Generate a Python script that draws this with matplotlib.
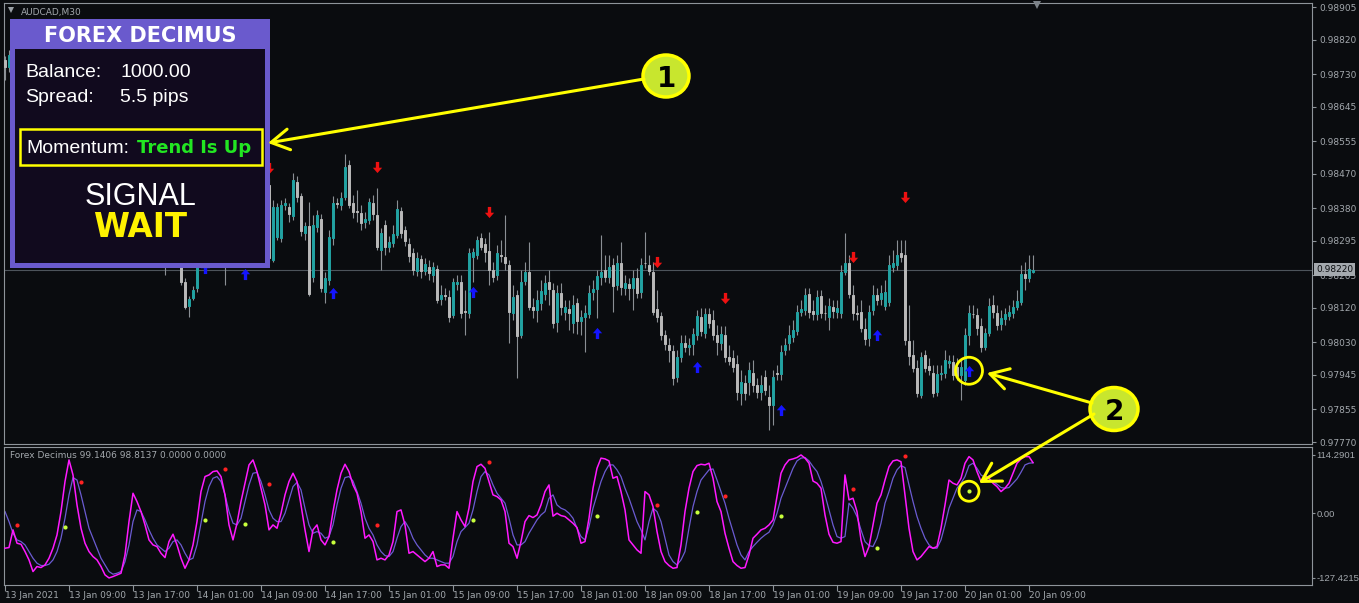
import numpy as np
import matplotlib
matplotlib.use("Agg")
import matplotlib.pyplot as plt
import matplotlib.transforms as mtransforms
from matplotlib.path import Path
from matplotlib.markers import MarkerStyle
from matplotlib.patches import Rectangle, Ellipse, Circle

# ---------------------------------------------------------------- data
symbol = "AUDCAD,M30"
indicator_name = "Forex Decimus"

# M30 candles, prices in points (1 point = 0.00001)
open_pts = [
    98767, 98748, 98780, 98761, 98714, 98693, 98662, 98631, 98597, 98615,
    98605, 98623, 98649, 98683, 98714, 98751, 98772, 98761, 98714, 98662,
    98623, 98584, 98545, 98526, 98493, 98453, 98414, 98401, 98412, 98407,
    98427, 98466, 98506, 98519, 98493, 98466, 98427, 98388, 98370, 98349,
    98310, 98271, 98292, 98307, 98276, 98188, 98125, 98146, 98172, 98284,
    98297, 98318, 98336, 98362, 98388, 98401, 98297, 98323, 98284, 98297,
    98271, 98302, 98336, 98388, 98414, 98433, 98440, 98245, 98305, 98302,
    98388, 98383, 98360, 98448, 98412, 98315, 98334, 98201, 98331, 98352,
    98162, 98193, 98302, 98393, 98388, 98409, 98493, 98393, 98373, 98367,
    98344, 98349, 98393, 98362, 98271, 98336, 98279, 98289, 98310, 98373,
    98323, 98287, 98263, 98216, 98248, 98216, 98227, 98206, 98221, 98143,
    98154, 98149, 98102, 98182, 98188, 98112, 98107, 98253, 98258, 98302,
    98287, 98268, 98219, 98206, 98258, 98253, 98232, 98107, 98154, 98050,
    98190, 98214, 98123, 98115, 98133, 98156, 98188, 98167, 98084, 98159,
    98110, 98117, 98081, 98133, 98086, 98097, 98104, 98162, 98169, 98201,
    98219, 98201, 98232, 98180, 98237, 98172, 98182, 98172, 98198, 98162,
    98237, 98232, 98214, 98117, 98099, 98050, 98024, 98008, 97940, 97992,
    98029, 98018, 98026, 98050, 98097, 98055, 98104, 98089, 98050, 98029,
    98050, 97992, 97990, 97974, 97898, 97925, 97927, 97951, 97919, 97901,
    97940, 97888, 97867, 97951, 97948, 98011, 98029, 98044, 98060, 98110,
    98115, 98156, 98112, 98104, 98151, 98107, 98097, 98123, 98110, 98107,
    98214, 98237, 98154, 98107, 98110, 98065, 98042, 98115, 98154, 98143,
    98125, 98136, 98227, 98232, 98263, 98258, 98034, 97998, 97964, 97893,
    97998, 97969, 97951, 97901, 97948, 97951, 97977, 97979, 97966, 97945,
    97932, 98050, 98104, 98102, 98073, 98018, 98055, 98128, 98107, 98078,
    98091, 98099, 98107, 98123, 98136, 98208, 98198, 98214,
]
high_pts = [
    98777, 98793, 98787, 98772, 98730, 98704, 98673, 98641, 98626, 98631,
    98636, 98662, 98693, 98725, 98761, 98787, 98793, 98772, 98725, 98673,
    98636, 98594, 98558, 98537, 98506, 98466, 98433, 98427, 98433, 98440,
    98479, 98519, 98532, 98532, 98506, 98479, 98438, 98401, 98386, 98362,
    98323, 98302, 98323, 98318, 98287, 98198, 98151, 98177, 98297, 98318,
    98334, 98349, 98375, 98401, 98414, 98422, 98336, 98334, 98310, 98307,
    98318, 98349, 98401, 98427, 98448, 98459, 98459, 98401, 98393, 98401,
    98407, 98393, 98472, 98464, 98420, 98344, 98396, 98362, 98375, 98365,
    98214, 98323, 98412, 98407, 98422, 98521, 98506, 98414, 98427, 98388,
    98370, 98407, 98414, 98433, 98328, 98349, 98307, 98336, 98401, 98383,
    98334, 98302, 98276, 98266, 98258, 98250, 98245, 98240, 98232, 98180,
    98172, 98167, 98198, 98206, 98206, 98167, 98276, 98276, 98307, 98315,
    98302, 98318, 98240, 98284, 98297, 98362, 98245, 98180, 98167, 98219,
    98240, 98292, 98146, 98167, 98193, 98206, 98219, 98185, 98180, 98185,
    98141, 98141, 98154, 98146, 98115, 98128, 98180, 98193, 98219, 98310,
    98258, 98258, 98250, 98258, 98292, 98206, 98198, 98219, 98224, 98250,
    98318, 98258, 98240, 98167, 98110, 98063, 98042, 98024, 98011, 98050,
    98050, 98042, 98068, 98115, 98120, 98120, 98120, 98115, 98076, 98073,
    98073, 98024, 98011, 97998, 97958, 97945, 97979, 97985, 97938, 97945,
    97958, 97919, 97958, 97972, 98024, 98042, 98076, 98089, 98128, 98141,
    98172, 98172, 98141, 98167, 98167, 98128, 98146, 98141, 98141, 98232,
    98315, 98258, 98180, 98128, 98141, 98094, 98128, 98180, 98172, 98180,
    98193, 98258, 98271, 98297, 98297, 98297, 98128, 98037, 97985, 98005,
    98011, 97990, 97972, 97972, 97972, 98011, 97998, 97998, 97990, 97985,
    98068, 98128, 98128, 98120, 98094, 98068, 98146, 98154, 98128, 98115,
    98120, 98128, 98141, 98167, 98232, 98240, 98258, 98258,
]
low_pts = [
    98714, 98735, 98730, 98704, 98678, 98652, 98620, 98584, 98589, 98594,
    98594, 98615, 98641, 98673, 98704, 98740, 98751, 98704, 98652, 98610,
    98573, 98532, 98511, 98479, 98440, 98401, 98380, 98386, 98388, 98396,
    98417, 98459, 98490, 98479, 98453, 98414, 98375, 98354, 98334, 98297,
    98206, 98250, 98271, 98258, 98180, 98117, 98097, 98141, 98162, 98271,
    98248, 98302, 98323, 98349, 98370, 98180, 98271, 98266, 98258, 98250,
    98229, 98292, 98328, 98375, 98401, 98422, 98240, 98240, 98297, 98292,
    98375, 98344, 98349, 98396, 98307, 98297, 98151, 98188, 98318, 98162,
    98133, 98180, 98284, 98380, 98375, 98401, 98380, 98354, 98344, 98323,
    98328, 98339, 98349, 98271, 98219, 98258, 98266, 98279, 98302, 98302,
    98281, 98240, 98206, 98203, 98198, 98206, 98193, 98188, 98133, 98128,
    98141, 98084, 98094, 98167, 98094, 98050, 98094, 98188, 98248, 98271,
    98240, 98180, 98188, 98193, 98240, 98219, 98029, 98089, 97938, 98042,
    98180, 98115, 98094, 98084, 98115, 98141, 98128, 98068, 98057, 98102,
    98089, 98063, 98055, 98052, 98050, 98005, 98094, 98141, 98094, 98180,
    98188, 98185, 98110, 98167, 98154, 98154, 98141, 98115, 98146, 98146,
    98224, 98206, 98102, 98084, 98037, 98011, 97979, 97919, 97927, 97979,
    98005, 97998, 97998, 98037, 98047, 98042, 98068, 98037, 97998, 98011,
    97979, 97972, 97953, 97880, 97867, 97880, 97893, 97901, 97885, 97880,
    97893, 97802, 97815, 97932, 97932, 97998, 98011, 98031, 98050, 98099,
    98102, 98094, 98089, 98089, 98094, 98089, 98063, 98094, 98094, 98094,
    98206, 98146, 98089, 98089, 98057, 98024, 98021, 98102, 98128, 98128,
    98115, 98125, 98214, 98219, 98240, 98024, 97972, 97953, 97888, 97885,
    97953, 97945, 97888, 97890, 97932, 97938, 97964, 97932, 97932, 97880,
    97919, 98024, 98094, 98050, 98005, 98011, 98047, 98094, 98063, 98063,
    98076, 98089, 98094, 98115, 98128, 98167, 98188, 98212,
]
close_pts = [
    98748, 98780, 98761, 98714, 98693, 98662, 98631, 98597, 98615, 98605,
    98623, 98649, 98683, 98714, 98751, 98772, 98761, 98714, 98662, 98623,
    98584, 98545, 98526, 98493, 98453, 98414, 98401, 98412, 98407, 98427,
    98466, 98506, 98519, 98493, 98466, 98427, 98388, 98370, 98349, 98310,
    98271, 98292, 98307, 98276, 98188, 98123, 98143, 98167, 98284, 98302,
    98318, 98336, 98362, 98388, 98401, 98297, 98323, 98284, 98297, 98271,
    98302, 98336, 98388, 98414, 98433, 98440, 98250, 98383, 98383, 98388,
    98393, 98365, 98453, 98409, 98321, 98334, 98156, 98336, 98362, 98172,
    98198, 98305, 98393, 98391, 98407, 98487, 98388, 98370, 98370, 98341,
    98352, 98396, 98365, 98279, 98315, 98279, 98292, 98313, 98378, 98315,
    98294, 98255, 98219, 98250, 98216, 98235, 98211, 98227, 98141, 98154,
    98151, 98097, 98188, 98188, 98107, 98110, 98263, 98266, 98297, 98279,
    98266, 98219, 98201, 98263, 98255, 98237, 98110, 98149, 98047, 98188,
    98214, 98123, 98115, 98141, 98164, 98185, 98169, 98081, 98159, 98123,
    98123, 98107, 98128, 98086, 98097, 98107, 98159, 98169, 98203, 98214,
    98201, 98227, 98177, 98237, 98175, 98185, 98172, 98198, 98159, 98232,
    98236, 98216, 98110, 98097, 98050, 98026, 98011, 97938, 97992, 98029,
    98018, 98024, 98052, 98099, 98060, 98104, 98081, 98050, 98031, 98052,
    97992, 97982, 97966, 97901, 97927, 97898, 97958, 97919, 97901, 97919,
    97906, 97867, 97940, 97948, 98005, 98024, 98050, 98063, 98110, 98117,
    98154, 98110, 98104, 98149, 98107, 98106, 98125, 98112, 98120, 98214,
    98237, 98156, 98107, 98104, 98068, 98039, 98110, 98154, 98141, 98159,
    98162, 98232, 98237, 98258, 98253, 98037, 97995, 97964, 97898, 97992,
    97964, 97958, 97898, 97948, 97951, 97985, 97982, 97945, 97943, 97966,
    98050, 98107, 98103, 98068, 98018, 98055, 98125, 98110, 98076, 98094,
    98104, 98110, 98123, 98138, 98208, 98198, 98221, 98220,
]

# oscillator: fast (main) and slow (signal) lines, one value per bar
fast_line = [
    -69.0, -67.7, -33.0, -59.2, -61.2, -75.6, -92.0, -114.9, -105.0, -107.0,
    -101.8, -88.7, -69.0, -42.9, 3.0, 62.0, 104.5, 75.0, 16.1, -29.8,
    -59.2, -75.6, -85.4, -92.0, -105.0, -121.4, -127.4215, -124.7, -121.4, -118.2,
    -82.2, -16.7, 39.0, 22.7, 3.0, -23.2, -52.7, -62.5, -65.8, -78.9,
    -87.4, -56.0, -41.5, -62.5, -88.7, -108.4, -92.0, -62.5, -16.7, 42.3,
    71.8, 75.0, 81.6, 83.0, 71.8, 35.8, -23.2, -52.7, -19.9, 22.7,
    58.7, 94.7, 104.5, 81.6, 48.9, 16.1, -33.0, -23.2, -29.8, -0.3,
    35.8, 62.0, 78.3, 62.0, 16.1, -33.0, -75.6, -33.0, -23.2, -52.7,
    -62.5, -46.1, 3.0, 45.6, 78.3, 96.0, 81.6, 55.4, 39.0, 3.0,
    -49.4, -42.9, -56.0, -92.0, -88.7, -92.0, -82.2, -56.0, 3.0, 6.3,
    -23.2, -78.9, -75.6, -82.2, -88.7, -95.3, -88.7, -75.6, -105.0, -101.8,
    -101.8, -108.4, -49.4, 3.0, -13.4, -26.5, 9.6, 62.0, 91.4, 96.0,
    88.0, 62.0, 35.8, 32.5, 26.0, 3.0, -59.2, -65.8, -88.7, -56.0,
    -16.7, -4.9, -8.8, -3.6, 16.1, 42.3, 55.4, -6.0, -0.3, -4.9,
    -6.8, -13.4, -19.9, -28.4, -59.2, -56.0, -10.1, 48.9, 88.0, 108.0,
    106.5, 102.6, 68.5, 71.8, 42.3, 6.3, -52.7, -62.5, -72.3, -78.9,
    42.3, 35.8, 12.8, -36.3, -75.6, -95.3, -103.0, -108.4, -107.0, -62.5,
    3.0, 48.9, 81.6, 93.4, 96.0, 94.7, 98.0, 68.5, 22.7, 3.0,
    -39.6, -69.0, -95.3, -103.0, -108.4, -107.0, -82.2, -49.4, -41.5, -33.0,
    -29.8, -23.2, -13.4, 32.5, 78.3, 94.7, 104.5, 106.5, 109.2, 114.2901,
    108.0, 98.0, 63.0, 58.7, 48.9, -3.6, -41.5, -57.3, -59.2, -56.0,
    75.0, 26.0, 29.2, 3.0, -52.7, -85.4, -65.8, -23.2, 19.4, 35.8,
    65.0, 91.4, 102.6, 104.5, 101.0, 35.8, -29.8, -75.6, -92.0, -85.4,
    -75.6, -65.8, -69.0, -65.8, -29.8, 16.1, 65.0, 58.7, 55.4, 68.5,
    98.0, 111.0, 104.5, 81.6, 62.0, 73.7, 68.5, 58.7, 52.0, 42.3,
    48.9, 58.7, 78.3, 98.0, 106.5, 111.0, 111.0, 99.1406,
]
slow_line = [
    3.0, -16.7, -39.6, -52.7, -56.0, -62.5, -75.6, -88.7, -98.5, -103.0,
    -103.0, -100.5, -92.0, -75.6, -49.4, -10.1, 35.8, 69.8, 65.0, 35.8,
    3.0, -29.8, -49.4, -69.0, -88.7, -101.8, -114.9, -120.1, -118.2, -114.9,
    -95.3, -62.5, -16.7, 6.3, 3.0, -13.4, -33.0, -49.4, -62.5, -69.0,
    -75.6, -69.0, -56.0, -52.7, -62.5, -78.9, -92.0, -88.7, -62.5, -19.9,
    22.7, 52.0, 68.5, 71.8, 62.0, 35.8, 3.0, -19.9, -23.2, -10.1,
    22.7, 55.4, 78.3, 80.0, 62.0, 35.8, 6.3, -10.1, -16.7, -16.7,
    -0.3, 26.0, 52.0, 60.6, 45.6, 9.6, -23.2, -39.6, -36.3, -39.6,
    -49.4, -46.1, -23.2, 16.1, 48.9, 69.8, 71.8, 63.0, 42.3, 19.4,
    -10.1, -29.8, -42.9, -62.5, -75.6, -83.5, -85.4, -75.6, -49.4, -26.5,
    -16.7, -29.8, -49.4, -62.5, -72.3, -82.2, -88.7, -88.7, -92.0, -95.3,
    -98.5, -98.5, -85.4, -56.0, -36.3, -28.4, -19.9, 6.3, 42.3, 71.8,
    81.6, 75.0, 55.4, 39.0, 29.2, 19.4, -10.1, -42.9, -62.5, -62.5,
    -56.0, -39.6, -26.5, -13.4, -3.6, 3.0, 29.2, 35.8, 16.1, 9.6,
    6.3, -0.3, -10.1, -29.8, -46.1, -52.7, -26.5, 9.6, 35.8, 62.0,
    81.6, 94.7, 94.7, 85.0, 71.8, 48.9, 29.2, 6.3, -16.7, -33.0,
    -52.7, -16.7, 9.6, 3.0, -16.7, -49.4, -82.2, -95.3, -101.8, -92.0,
    -75.6, -29.8, 12.8, 42.3, 65.0, 75.0, 85.0, 86.8, 65.0, 42.3,
    19.4, -10.1, -36.3, -62.5, -82.2, -92.0, -75.6, -65.8, -57.3, -49.4,
    -42.9, -37.6, -23.2, -0.3, 29.2, 48.9, 68.5, 88.0, 102.6, 108.0,
    109.2, 102.6, 91.4, 81.6, 62.0, 35.8, 6.3, -23.2, -46.1, -49.4,
    -46.1, 19.4, 9.6, -6.8, -33.0, -56.0, -63.8, -65.8, -49.4, -19.9,
    19.4, 42.3, 68.5, 85.0, 93.4, 89.4, 55.4, 22.7, -6.8, -29.8,
    -49.4, -62.5, -69.0, -69.0, -52.7, -23.2, 9.6, 29.2, 48.9, 58.7,
    71.8, 93.4, 98.0, 88.0, 75.0, 69.8, 67.2, 62.0, 56.7, 50.2,
    48.9, 50.2, 58.7, 67.2, 80.3, 94.7, 98.0, 98.8137,
]

# oscillator cross dots
sell_dot_bars = [3, 19, 55, 66, 93, 121, 163, 180, 212, 225]
sell_dot_values = [-23.2, 60.6, 86.2, 56.7, -23.2, 99.9, 15.4, 33.1, 46.9, 111.7]
buy_dot_bars = [15, 50, 60, 82, 117, 148, 173, 194, 218, 241]
buy_dot_values = [-27.8, -14.0, -21.9, -57.3, -14.0, -6.2, 1.7, -5.5, -69.0, 43.0]

# signal arrows on the price chart (points)
buy_arrow_bars = [50, 60, 82, 117, 148, 173, 194, 218, 241]
buy_arrow_pts = [98224, 98208, 98159, 98162, 98055, 97966, 97854, 98050, 97956]
sell_arrow_bars = [55, 66, 93, 121, 163, 180, 212, 225]
sell_arrow_pts = [98446, 98485, 98487, 98370, 98240, 98146, 98253, 98409]

time_labels = ["13 Jan 2021", "13 Jan 09:00", "13 Jan 17:00", "14 Jan 01:00",
               "14 Jan 09:00", "14 Jan 17:00", "15 Jan 01:00", "15 Jan 09:00",
               "15 Jan 17:00", "18 Jan 01:00", "18 Jan 09:00", "18 Jan 17:00",
               "19 Jan 01:00", "19 Jan 09:00", "19 Jan 17:00", "20 Jan 01:00",
               "20 Jan 09:00"]
bars_per_label = 16
price_ticks = [0.98905, 0.98820, 0.98730, 0.98645, 0.98555, 0.98470, 0.98380,
               0.98295, 0.98205, 0.98120, 0.98030, 0.97945, 0.97855, 0.97770]

balance = 1000.00
spread_pips = 5.5
momentum_state = "Trend Is Up"
signal_state = "WAIT"

# ---------------------------------------------------------------- style
W, H = 1359, 603
BG = "#0a0c0f"
FRAME = "#8e949a"
TXT = "#a3a8ad"
BULL = "#22a2a2"
BEAR = "#b9b9b9"
WICK = "#8a8f94"
YEL = "#ffff00"

open_ = np.array(open_pts) / 1e5
high = np.array(high_pts) / 1e5
low = np.array(low_pts) / 1e5
close = np.array(close_pts) / 1e5
fast = np.array(fast_line)
slow = np.array(slow_line)
bars = np.arange(len(close))

fig = plt.figure(figsize=(W / 100, H / 100), dpi=100, facecolor=BG)


def px_box(left, top, right, bottom):
    return [left / W, 1 - bottom / H, (right - left) / W, (bottom - top) / H]


ax = fig.add_axes(px_box(4, 3, 1312, 444), facecolor=BG)
ai = fig.add_axes(px_box(4, 447, 1312, 585), facecolor=BG)

for a in (ax, ai):
    a.set_xlim(-0.25, 326.75)
    for sp in a.spines.values():
        sp.set_color(FRAME)
        sp.set_linewidth(0.8)
    a.yaxis.tick_right()

# ---------------------------------------------------------------- price panel
ax.set_ylim(0.977649, 0.989155)
ax.axhline(close[-1], color="#4d545b", lw=0.8, zorder=1)
ax.vlines(bars, low, high, color=WICK, lw=0.8, zorder=2)
body_col = np.where(close >= open_, BULL, BEAR)
ax.bar(bars, np.abs(close - open_), bottom=np.minimum(open_, close), width=0.66,
       color=body_col, edgecolor=body_col, linewidth=0.7, zorder=3)

up_path = Path([(-0.42, 0.02), (0.0, 0.5), (0.42, 0.02), (0.15, 0.02),
                (0.15, -0.5), (-0.15, -0.5), (-0.15, 0.02), (-0.42, 0.02)],
               [Path.MOVETO] + [Path.LINETO] * 6 + [Path.CLOSEPOLY])
down_path = Path(up_path.vertices * np.array([1, -1]), up_path.codes)
ax.plot(buy_arrow_bars, np.array(buy_arrow_pts) / 1e5, ls="none",
        marker=MarkerStyle(up_path), ms=8, mew=0, color="#1414ff", zorder=4)
ax.plot(sell_arrow_bars, np.array(sell_arrow_pts) / 1e5, ls="none",
        marker=MarkerStyle(down_path), ms=8, mew=0, color="#ee1111", zorder=4)

ax.set_yticks(price_ticks)
ax.set_yticklabels([f"{v:.5f}" for v in price_ticks])
ax.tick_params(axis="y", direction="out", length=3, width=0.8, color=FRAME,
               labelcolor=TXT, labelsize=6.5, pad=2)
ax.tick_params(axis="x", bottom=False, labelbottom=False)

price_tr = mtransforms.blended_transform_factory(ax.transAxes, ax.transData)
ax.text(1.0 + 4 / 1308, close[-1], f"{close[-1]:.5f}", transform=price_tr,
        ha="left", va="center", fontsize=6.5, color="#0b0d10", clip_on=False,
        zorder=6, bbox=dict(boxstyle="square,pad=0.25", fc="#a4a9ae", ec="none"))

# ---------------------------------------------------------------- oscillator panel
ai.set_ylim(-141.3, 129.9)
ai.plot(bars, slow, color="#6b5bd2", lw=0.9, zorder=2)
ai.plot(bars, fast, color="#ff19ff", lw=1.1, zorder=3)
ai.plot(sell_dot_bars, sell_dot_values, "o", ms=3, mew=0, color="#ff2222", zorder=4)
ai.plot(buy_dot_bars, buy_dot_values, "o", ms=3, mew=0, color="#c8ff3c", zorder=4)

osc_ticks = [fast.max(), 0.0, fast.min()]
ai.set_yticks(osc_ticks)
ai.set_yticklabels([f"{osc_ticks[0]:.4f}", "0.00", f"{osc_ticks[2]:.4f}"],
                   family="Liberation Sans")
ai.tick_params(axis="y", direction="out", length=2, width=0.8, color=FRAME,
               labelcolor=TXT, labelsize=6.8, pad=1)

tick_bars = [i * bars_per_label for i in range(len(time_labels))]
ai.set_xticks(tick_bars)
ai.set_xticklabels(time_labels, ha="left")
ai.tick_params(axis="x", direction="out", length=4, width=0.8, color=FRAME,
               labelcolor=TXT, labelsize=6.5, pad=0.5)

ai.text((10 - 4) / 1308, 1 - (456 - 447) / 138,
        f"{indicator_name} {fast[-1]:.4f} {slow[-1]:.4f} 0.0000 0.0000",
        transform=ai.transAxes, ha="left", va="center", fontsize=6.5, color=TXT)

# ---------------------------------------------------------------- overlay (pixel space)
ov = fig.add_axes([0, 0, 1, 1], zorder=10)
ov.set_xlim(0, W)
ov.set_ylim(H, 0)
ov.axis("off")
ov.patch.set_alpha(0)

ov.plot([11], [10], marker="v", ms=4, color="#9aa0a6", mew=0)
ov.text(21, 15, symbol, fontsize=6.5, color=TXT, ha="left", va="baseline")
ov.plot([1037], [5], marker="v", ms=6, color="#7d838a", mew=0)

# info panel
ov.add_patch(Rectangle((10, 19), 260, 249, fc="#6a5acd", ec="none"))
ov.add_patch(Rectangle((15, 49), 250, 214, fc="#110a1e", ec="none"))
ov.text(140, 42, "FOREX DECIMUS", fontsize=15, fontweight="bold", color="white",
        family="DejaVu Sans", ha="center", va="baseline")
ov.text(25, 77, "Balance:", fontsize=14, color="white", family="Liberation Sans",
        ha="left", va="baseline")
ov.text(121, 77, f"{balance:.2f}", fontsize=14, color="white",
        family="Liberation Sans", ha="left", va="baseline")
ov.text(25, 101.5, "Spread:", fontsize=14, color="white", family="Liberation Sans",
        ha="left", va="baseline")
ov.text(120, 101.5, f"{spread_pips} pips", fontsize=14, color="white",
        family="Liberation Sans", ha="left", va="baseline")
ov.add_patch(Rectangle((20, 129), 242, 36, fc="none", ec=YEL, lw=1.8))
ov.text(26, 153, "Momentum:", fontsize=14, color="white", family="Liberation Sans",
        ha="left", va="baseline")
ov.text(137, 153, momentum_state, fontsize=13, fontweight="bold", color="#22e622",
        family="DejaVu Sans", ha="left", va="baseline")
ov.text(141, 205, "SIGNAL", fontsize=22, color="white", family="Liberation Sans",
        ha="center", va="baseline")
ov.text(140, 237, signal_state, fontsize=23.5, fontweight="bold", color="#fff200",
        family="DejaVu Sans", ha="center", va="baseline")

# callouts
arrow_kw = dict(arrowstyle="->,head_length=1.3,head_width=0.75", color=YEL,
                lw=2.2, shrinkA=0, shrinkB=0)
ov.annotate("", xy=(268, 143), xytext=(644, 79), arrowprops=arrow_kw)
ov.add_patch(Ellipse((666, 76), 46, 42, fc="#c8e62e", ec=YEL, lw=2.5))
ov.text(666, 87, "1", fontsize=20, fontweight="bold", color="black",
        ha="center", va="baseline")

ov.annotate("", xy=(987, 373), xytext=(1092, 403), arrowprops=arrow_kw)
ov.annotate("", xy=(979, 483), xytext=(1094, 414), arrowprops=arrow_kw)
ov.add_patch(Ellipse((1114, 409), 48, 43, fc="#c8e62e", ec=YEL, lw=2.5))
ov.text(1114, 420, "2", fontsize=20, fontweight="bold", color="black",
        ha="center", va="baseline")


def to_overlay(axes, x, y):
    dx, dy = axes.transData.transform((x, y))
    return dx, H - dy


cx, cy = to_overlay(ax, buy_arrow_bars[-1], buy_arrow_pts[-1] / 1e5)
ov.add_patch(Circle((cx, cy), 13.5, fc="none", ec=YEL, lw=2))
cx, cy = to_overlay(ai, buy_dot_bars[-1], buy_dot_values[-1])
ov.add_patch(Circle((cx, cy), 10, fc="none", ec=YEL, lw=2))

fig.savefig("out.png", dpi=100, facecolor=BG)
